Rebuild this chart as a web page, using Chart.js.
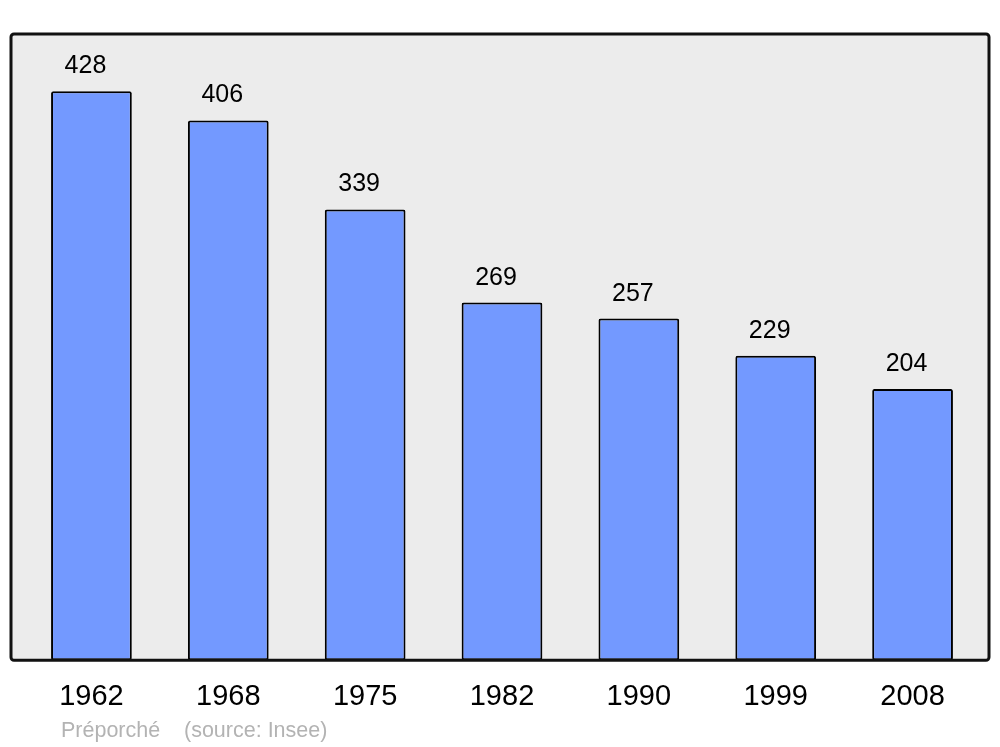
<!DOCTYPE html>
<html>
<head>
<meta charset="utf-8">
<script src="https://cdn.jsdelivr.net/npm/chart.js@4"></script>
<style>
  html, body { margin: 0; padding: 0; background: #fff; }
  #wrap { width: 1000px; height: 747px; position: relative; }
</style>
</head>
<body>
<div id="wrap"><canvas id="popChart"></canvas></div>
<script>
// Données (population par recensement)
const years = ['1962', '1968', '1975', '1982', '1990', '1999', '2008'];
const population = [428, 406, 339, 269, 257, 229, 204];
const yMax = 471;
const footerName = 'Préporché';
const footerSource = '(source: Insee)';

// Cadre gris arrondi derrière les barres
const framePlugin = {
  id: 'frame',
  beforeDatasetsDraw(chart) {
    const { ctx, chartArea: a } = chart;
    ctx.save();
    ctx.beginPath();
    ctx.roundRect(a.left - 12, a.top, a.right - a.left + 20, a.bottom - a.top, 3);
    ctx.fillStyle = '#ececec';
    ctx.fill();
    ctx.restore();
  },
  afterDatasetsDraw(chart) {
    const { ctx, chartArea: a } = chart;
    ctx.save();
    ctx.beginPath();
    ctx.roundRect(a.left - 12, a.top, a.right - a.left + 20, a.bottom - a.top, 3);
    ctx.lineWidth = 3;
    ctx.strokeStyle = '#111';
    ctx.stroke();
    // valeurs au-dessus des barres
    const meta = chart.getDatasetMeta(0);
    ctx.font = '25px "Liberation Sans", Arial, sans-serif';
    ctx.fillStyle = '#000';
    ctx.textAlign = 'center';
    ctx.textBaseline = 'alphabetic';
    meta.data.forEach((bar, i) => {
      ctx.fillText(String(population[i]), bar.x - 6, bar.y - 18);
    });
    // source
    ctx.font = '21.5px "Liberation Sans", Arial, sans-serif';
    ctx.fillStyle = '#b3b3b3';
    ctx.textAlign = 'left';
    ctx.fillText(footerName, 61, 737);
    ctx.fillText(footerSource, 184, 737);
    ctx.restore();
  }
};

new Chart(document.getElementById('popChart').getContext('2d'), {
  type: 'bar',
  data: {
    labels: years,
    datasets: [{
      data: population,
      backgroundColor: '#7399ff',
      borderColor: '#000',
      borderWidth: 2,
      borderRadius: 2,
      borderSkipped: false,
      categoryPercentage: 1,
      barPercentage: 0.59
    }]
  },
  options: {
    responsive: true,
    maintainAspectRatio: false,
    animation: false,
    layout: { padding: { left: 23, right: 19, top: 34, bottom: 14 } },
    scales: {
      x: {
        grid: { display: false, drawTicks: false },
        border: { display: false },
        ticks: {
          color: '#000',
          font: { family: '"Liberation Sans", Arial, sans-serif', size: 29 },
          padding: 19,
          maxRotation: 0
        }
      },
      y: { display: false, min: 0, max: yMax }
    },
    plugins: {
      legend: { display: false },
      tooltip: { enabled: false }
    }
  },
  plugins: [framePlugin]
});
</script>
</body>
</html>
